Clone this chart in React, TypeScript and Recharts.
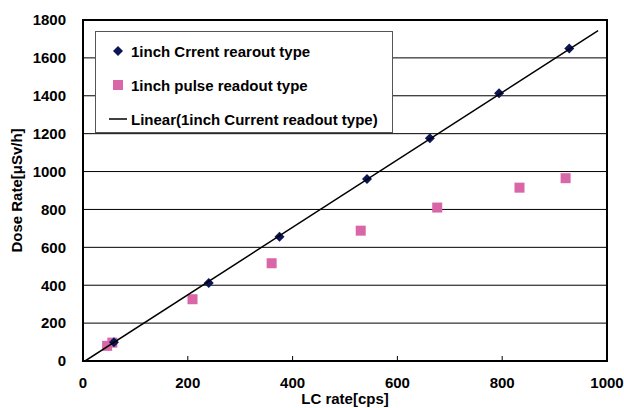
import {
  ScatterChart, Scatter, XAxis, YAxis, CartesianGrid, ReferenceArea, Legend, Label,
} from "recharts";

// 1inch current readout type (diamonds)
const currentX = [59, 240, 375, 542, 662, 794, 928];
const currentY = [99, 412, 656, 961, 1176, 1414, 1650];
// 1inch pulse readout type (squares)
const pulseX = [46, 56, 209, 360, 530, 676, 833, 921];
const pulseY = [80, 97, 326, 516, 688, 810, 915, 965];
// linear trend line of the current readout type
const trendX = [4, 983];
const trendY = [0, 1744];

const xTicks = [0, 200, 400, 600, 800, 1000];
const yTicks = [0, 200, 400, 600, 800, 1000, 1200, 1400, 1600, 1800];

const seriesNames = [
  "1inch Crrent rearout type",
  "1inch pulse readout type",
  "Linear(1inch Current readout type)",
];

const NAVY = "#0B1559";
const PINK = "#D966A6";
const FONT = "'Liberation Sans', Arial, sans-serif";

const zip = (xs: number[], ys: number[]) => xs.map((x, i) => ({ x, y: ys[i] }));
const currentData = zip(currentX, currentY);
const pulseData = zip(pulseX, pulseY);
const trendData = zip(trendX, trendY);

const Diamond = (p: any) => {
  const r = 5;
  return (
    <polygon
      points={`${p.cx},${p.cy - r} ${p.cx + r},${p.cy} ${p.cx},${p.cy + r} ${p.cx - r},${p.cy}`}
      fill={NAVY}
    />
  );
};

const Square = (p: any) => (
  <rect x={p.cx - 5} y={p.cy - 5} width={10} height={10} fill={PINK} />
);

const Nothing = () => <g />;

function LegendBox() {
  const row = { display: "flex", alignItems: "center", height: 34 } as const;
  const icon = { width: 26, display: "flex", justifyContent: "center" } as const;
  return (
    <div
      style={{
        width: 298, height: 102, border: "1px solid #555", background: "#fff",
        boxSizing: "border-box", padding: "2px 0 0 9px",
        fontFamily: FONT, fontWeight: "bold", fontSize: 15, color: "#000",
      }}
    >
      <div style={row}>
        <div style={icon}>
          <svg width={10} height={10}><polygon points="5,0 10,5 5,10 0,5" fill={NAVY} /></svg>
        </div>
        <span>{seriesNames[0]}</span>
      </div>
      <div style={row}>
        <div style={icon}>
          <svg width={10} height={10}><rect width={10} height={10} fill={PINK} /></svg>
        </div>
        <span>{seriesNames[1]}</span>
      </div>
      <div style={row}>
        <div style={icon}>
          <svg width={18} height={4}><line x1={0} y1={2} x2={18} y2={2} stroke="#000" strokeWidth={1.5} /></svg>
        </div>
        <span>{seriesNames[2]}</span>
      </div>
    </div>
  );
}

export default function App() {
  const tickStyle = { fontFamily: FONT, fontWeight: "bold", fontSize: 15, fill: "#000" };
  return (
    <div style={{ position: "absolute", left: 0, top: 0, background: "#fff" }}>
      <ScatterChart width={624} height={408} margin={{ top: 20, right: 17, left: 0, bottom: 0 }}>
        <CartesianGrid horizontal vertical={false} stroke="#000" strokeOpacity={1} />
        <XAxis
          type="number" dataKey="x" domain={[0, 1000]} ticks={xTicks} height={47}
          axisLine={{ stroke: "#000", strokeWidth: 2 }} tickLine={{ stroke: "#000" }}
          tickSize={-5} tickMargin={21} tick={tickStyle} allowDataOverflow
        >
          <Label
            content={({ viewBox }: any) => (
              <text
                x={viewBox.x + viewBox.width / 2} y={viewBox.y + viewBox.height - 4}
                textAnchor="middle" style={tickStyle}
              >
                LC rate[cps]
              </text>
            )}
          />
        </XAxis>
        <YAxis
          type="number" dataKey="y" domain={[0, 1800]} ticks={yTicks} width={83}
          axisLine={{ stroke: "#000", strokeWidth: 2 }} tickLine={false}
          tickSize={0} tickMargin={17} tick={tickStyle} allowDataOverflow
        >
          <Label
            content={({ viewBox }: any) => {
              const cx = 16;
              const cy = viewBox.y + viewBox.height / 2;
              return (
                <text
                  x={cx} y={cy} transform={`rotate(-90 ${cx} ${cy})`}
                  textAnchor="middle" dominantBaseline="central" style={tickStyle}
                >
                  Dose Rate[μSv/h]
                </text>
              );
            }}
          />
        </YAxis>
        <ReferenceArea
          x1={0} x2={1000} y1={0} y2={1800}
          fill="none" fillOpacity={0} stroke="#000" strokeWidth={2} strokeOpacity={1}
        />
        <Scatter name={seriesNames[1]} data={pulseData} shape={Square} isAnimationActive={false} />
        <Scatter name={seriesNames[0]} data={currentData} shape={Diamond} isAnimationActive={false} />
        <Scatter
          name={seriesNames[2]} data={trendData} shape={Nothing}
          line={{ stroke: "#000", strokeWidth: 1.5 }} isAnimationActive={false}
        />
        <Legend
          layout="vertical" align="center" verticalAlign="middle"
          wrapperStyle={{ left: 95, top: 31, width: 298, height: 102 }}
          content={() => <LegendBox />}
        />
      </ScatterChart>
    </div>
  );
}
